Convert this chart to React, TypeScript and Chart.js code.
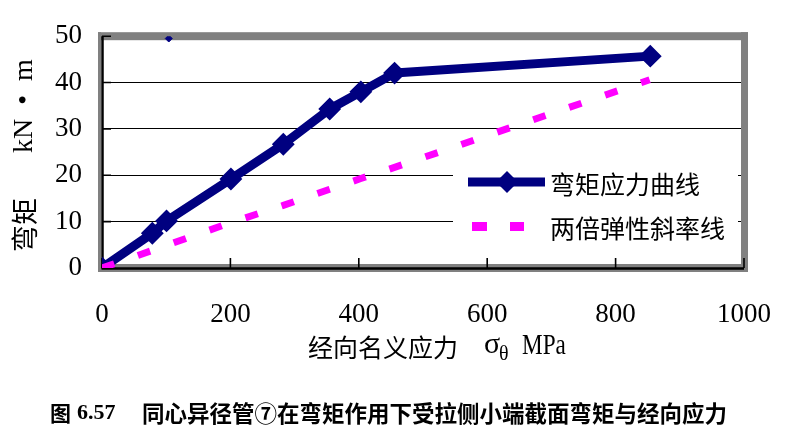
import { useEffect, useRef } from "react";
import { Chart, registerables } from "chart.js";

Chart.register(...registerables);

// ---- data ----
const stressX = [0, 78.4, 100.5, 200.8, 282.4, 354.7, 403.2, 455.7, 854];
const momentY = [0, 7.5, 10.15, 19.2, 26.7, 34.3, 38.0, 42.05, 45.7];
const elasticX = [0, 78.4, 100.5, 200.8, 282.4, 354.7, 403.2, 455.7, 853];
const elasticY = [0, 3.8, 4.9, 9.8, 13.5, 17.0, 19.3, 21.7, 40.6];
const strayX = [104];
const strayY = [49.5];
const xTicks = [0, 200, 400, 600, 800, 1000];
const yTicks = [0, 10, 20, 30, 40, 50];
const seriesLabels = ["弯矩应力曲线", "两倍弹性斜率线"];
const xTitleCn = "经向名义应力";
const xTitleSym = "σ";
const xTitleSub = "θ";
const xTitleUnit = "MPa";
const yTitleCn = "弯矩";
const yTitleUnit = "kN  •  m";
const captionFig = "图";
const captionNum = "6.57";
const captionText = "同心异径管⑦在弯矩作用下受拉侧小端截面弯矩与经向应力";

const NAVY = "#000080";
const PINK = "#FF00FF";
const SERIF = '"Liberation Serif", "Times New Roman", serif';
const CJK = '"Noto Sans CJK SC", sans-serif';

function diamond(ctx: CanvasRenderingContext2D, x: number, y: number, r: number) {
  ctx.beginPath();
  ctx.moveTo(x - r, y);
  ctx.lineTo(x, y - r);
  ctx.lineTo(x + r, y);
  ctx.lineTo(x, y + r);
  ctx.closePath();
  ctx.fill();
}

const decor = {
  id: "decor",
  beforeDatasetsDraw(chart: any) {
    const { ctx, chartArea } = chart;
    const { left, right, top, bottom } = chartArea;
    const xs = chart.scales.x;
    const ys = chart.scales.y;
    ctx.save();
    // gray frame
    ctx.fillStyle = "#808080";
    ctx.fillRect(left - 4, top - 4, right - left + 8, 8);
    ctx.fillRect(right - 3, top - 4, 7, bottom - top + 8);
    ctx.fillRect(left - 4, bottom - 4, right - left + 8, 8);
    ctx.fillRect(left - 4, top - 4, 3, bottom - top + 8);
    // black axis lines
    ctx.strokeStyle = "#000";
    ctx.lineWidth = 2.5;
    ctx.beginPath();
    ctx.moveTo(left + 0.5, top);
    ctx.lineTo(left + 0.5, bottom + 1.5);
    ctx.moveTo(left, bottom + 0.5);
    ctx.lineTo(right, bottom + 0.5);
    ctx.stroke();
    // inward ticks
    ctx.lineWidth = 1.6;
    ctx.beginPath();
    for (const v of xTicks) {
      const px = xs.getPixelForValue(v);
      ctx.moveTo(px, bottom);
      ctx.lineTo(px, bottom - 10);
    }
    for (const v of yTicks) {
      const py = ys.getPixelForValue(v);
      ctx.moveTo(left, py);
      ctx.lineTo(left + 9, py);
    }
    ctx.stroke();
    ctx.restore();
  },
  afterDraw(chart: any) {
    const { ctx } = chart;
    ctx.save();
    // legend box
    ctx.fillStyle = "#fff";
    ctx.fillRect(453, 158, 285, 90);
    // legend item 1
    ctx.strokeStyle = NAVY;
    ctx.lineWidth = 9;
    ctx.beginPath();
    ctx.moveTo(468, 182);
    ctx.lineTo(545, 182);
    ctx.stroke();
    ctx.fillStyle = NAVY;
    diamond(ctx, 507, 182, 11);
    // legend item 2
    ctx.fillStyle = PINK;
    ctx.fillRect(472, 222, 15, 9);
    ctx.fillRect(510, 222, 14, 9);
    // legend text
    ctx.fillStyle = "#000";
    ctx.textBaseline = "middle";
    ctx.textAlign = "left";
    ctx.font = `25px ${CJK}`;
    ctx.fillText(seriesLabels[0], 550, 184);
    ctx.fillText(seriesLabels[1], 550, 228);

    // x axis title
    ctx.font = `25px ${CJK}`;
    ctx.fillText(xTitleCn, 308, 347);
    ctx.font = `30px ${SERIF}`;
    ctx.fillText(xTitleSym, 484, 345);
    ctx.font = `20px ${SERIF}`;
    ctx.fillText(xTitleSub, 499, 355);
    ctx.save();
    ctx.translate(522, 346);
    ctx.scale(0.8, 1);
    ctx.font = `29px ${SERIF}`;
    ctx.fillText(xTitleUnit, 0, 0);
    ctx.restore();

    // y axis title (rotated)
    ctx.save();
    ctx.translate(25, 0);
    ctx.rotate(-Math.PI / 2);
    ctx.textAlign = "center";
    ctx.font = `27px ${CJK}`;
    ctx.fillText(yTitleCn, -225, 0);
    ctx.font = `28px ${SERIF}`;
    ctx.fillText(yTitleUnit, -106, 0);
    ctx.restore();

    // caption
    ctx.textAlign = "left";
    ctx.font = `bold 21px ${CJK}`;
    ctx.fillText(captionFig, 50, 413);
    ctx.font = `bold 22px ${SERIF}`;
    ctx.fillText(captionNum, 77, 413);
    ctx.font = `bold 22.5px ${CJK}`;
    ctx.fillText(captionText, 142, 413);
    ctx.restore();
  },
};

export default function App() {
  const ref = useRef<HTMLCanvasElement | null>(null);
  useEffect(() => {
    if (!ref.current) return;
    const chart = new Chart(ref.current, {
      type: "line",
      data: {
        datasets: [
          {
            label: seriesLabels[1],
            data: elasticX.map((x, i) => ({ x, y: elasticY[i] })),
            borderColor: PINK,
            backgroundColor: PINK,
            borderWidth: 7,
            borderDash: [13, 25],
            borderCapStyle: "butt",
            pointRadius: 0,
            tension: 0,
            order: 0,
          },
          {
            label: seriesLabels[0],
            data: stressX.map((x, i) => ({ x, y: momentY[i] })),
            borderColor: NAVY,
            backgroundColor: NAVY,
            borderWidth: 9,
            borderJoinStyle: "round",
            pointStyle: "rectRot",
            pointRadius: 10,
            pointBorderWidth: 2,
            pointBorderColor: NAVY,
            pointBackgroundColor: NAVY,
            tension: 0,
            order: 1,
          },
          {
            label: "",
            data: strayX.map((x, i) => ({ x, y: strayY[i] })),
            showLine: false,
            pointStyle: "rectRot",
            pointRadius: 3.5,
            pointBorderWidth: 1,
            pointBackgroundColor: NAVY,
            pointBorderColor: NAVY,
            order: 2,
          },
        ],
      } as any,
      options: {
        animation: false,
        responsive: false,
        maintainAspectRatio: false,
        layout: { padding: { left: 0, right: 45, top: 36, bottom: 0 } },
        plugins: {
          legend: { display: false },
          tooltip: { enabled: false },
          title: { display: false },
        },
        scales: {
          x: {
            type: "linear",
            min: 0,
            max: 1000,
            afterFit: (s: any) => {
              s.height = 171;
            },
            afterBuildTicks: (s: any) => {
              s.ticks = xTicks.map((v) => ({ value: v }));
            },
            ticks: {
              color: "#000",
              font: { family: SERIF, size: 27 },
              padding: 31,
              maxRotation: 0,
              autoSkip: false,
              callback: (v: any) => String(v),
            },
            grid: { display: false, drawTicks: false },
            border: { display: false },
          },
          y: {
            type: "linear",
            min: 0,
            max: 50,
            afterFit: (s: any) => {
              s.width = 102;
            },
            afterBuildTicks: (s: any) => {
              s.ticks = yTicks.map((v) => ({ value: v }));
            },
            ticks: {
              color: "#000",
              font: { family: SERIF, size: 27 },
              padding: 20,
              autoSkip: false,
              callback: (v: any) => String(v),
            },
            grid: {
              drawTicks: false,
              lineWidth: 1,
              color: (c: any) =>
                c.tick && (c.tick.value === 0 || c.tick.value === 50) ? "rgba(0,0,0,0)" : "#000",
            },
            border: { display: false },
          },
        },
      } as any,
      plugins: [decor],
    });
    return () => chart.destroy();
  }, []);
  return (
    <div style={{ position: "absolute", left: 0, top: 0, width: 802, height: 439, background: "#fff" }}>
      <canvas ref={ref} width={802} height={439} />
    </div>
  );
}
